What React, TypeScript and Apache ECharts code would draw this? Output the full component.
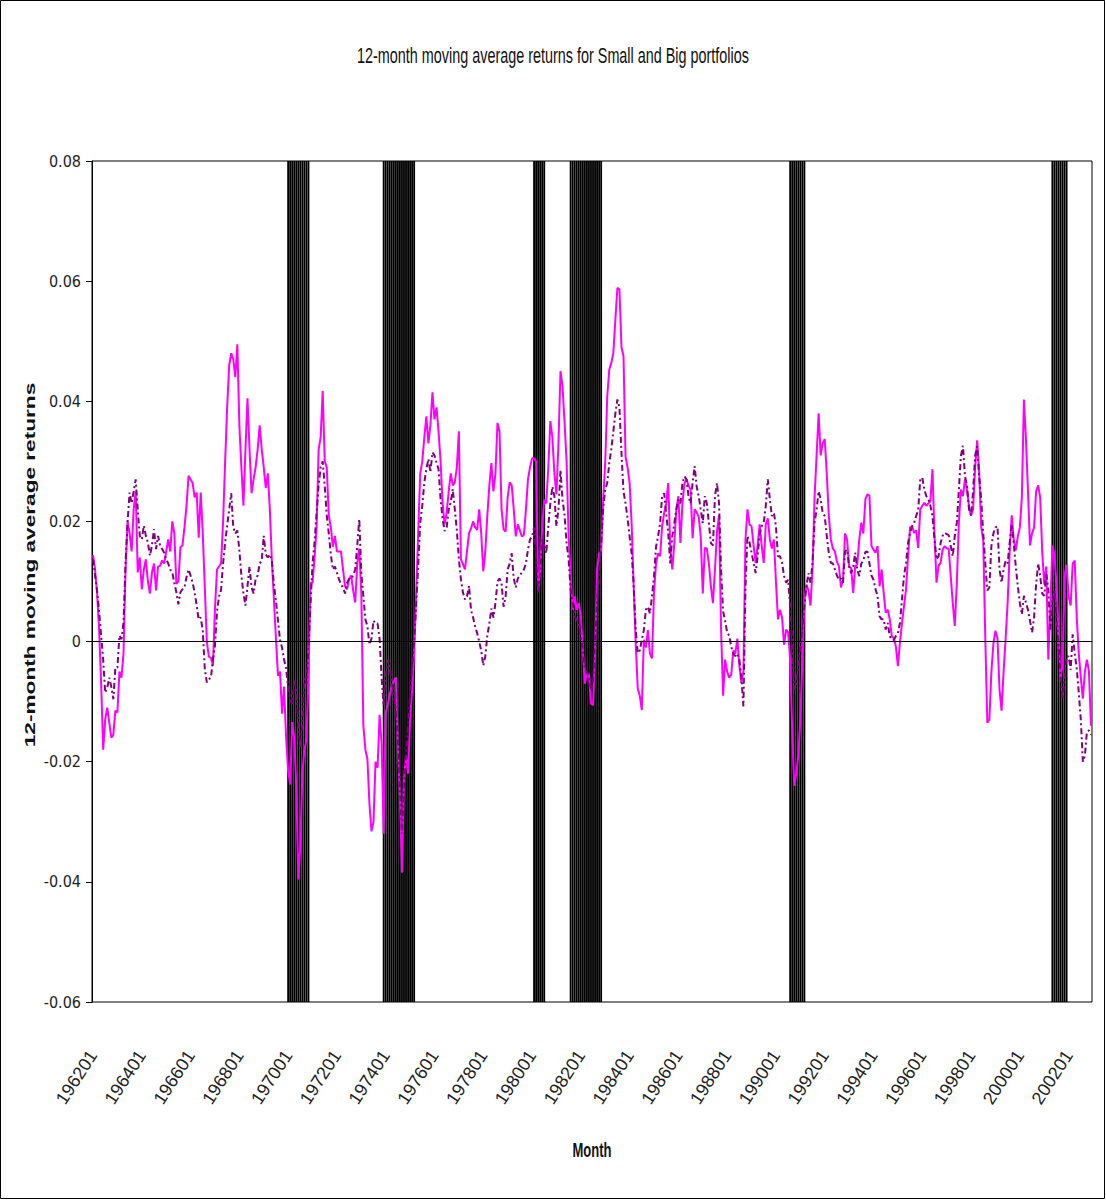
import React, { useEffect, useRef } from "react";
import * as echarts from "echarts";

// Monthly categories 196201 .. 200212
const FIRST_YEAR = 1962;
const LAST_YEAR = 2002;
const MONTHS: string[] = [];
for (let y = FIRST_YEAR; y <= LAST_YEAR; y++) {
  for (let m = 1; m <= 12; m++) MONTHS.push(`${y}${m < 10 ? "0" : ""}${m}`);
}

const TITLE = "12-month moving average returns for Small and Big portfolios";
const Y_NAME = "12-month moving average returns";
const X_NAME = "Month";

// Recession periods (first month, last month) shaded on the chart
const RECESSIONS: [string, string][] = [
  ["197001", "197011"],
  ["197312", "197503"],
  ["198002", "198007"],
  ["198108", "198211"],
  ["199008", "199103"],
  ["200105", "200112"],
];

// Small portfolio, 12-month moving average return (monthly from 196201)
const SMALL: number[] = [
  0.0144, 0.012, 0.008, 0.002, -0.007, -0.018, -0.013, -0.011, -0.0135, -0.016, -0.0155, -0.0115,
  -0.0118, -0.005, -0.006, -0.002, 0.012, 0.02, 0.018, 0.015, 0.022, 0.025, 0.0115,
  0.014, 0.0087, 0.012, 0.0137, 0.01, 0.008, 0.0115, 0.013, 0.0085, 0.0125, 0.0126, 0.0135,
  0.013, 0.015, 0.017, 0.015, 0.02, 0.018, 0.0096, 0.01, 0.0157, 0.016, 0.019, 0.0226,
  0.0276, 0.027, 0.0264, 0.024, 0.0248, 0.0173, 0.0248, 0.018, 0.009, 0.0, -0.0025, -0.0027,
  -0.004, 0.0055, 0.012, 0.0125, 0.013, 0.02, 0.03, 0.039, 0.046, 0.048, 0.047,
  0.044, 0.0495, 0.036, 0.029, 0.0226, 0.032, 0.0405, 0.032, 0.0247, 0.027, 0.029, 0.032,
  0.036, 0.032, 0.029, 0.0256, 0.028, 0.022, 0.0134, 0.007, 0.0005, -0.0057, -0.005, -0.012,
  -0.0075, -0.016, -0.0215, -0.0238, -0.0134, -0.016, -0.024, -0.0396, -0.034, -0.022, -0.018,
  -0.0164, -0.006, 0.0098, 0.0098, 0.014, 0.019, 0.032, 0.034, 0.0417, 0.03, 0.029, 0.021,
  0.019, 0.0158, 0.0176, 0.015, 0.015, 0.015, 0.012, 0.0092, 0.0087, 0.0104, 0.011, 0.0085,
  0.0065, 0.013, 0.0155, 0.008, -0.014, -0.018, -0.0195, -0.027, -0.0316, -0.03, -0.02, -0.021,
  -0.0122, -0.017, -0.032, -0.0118, -0.0105, -0.0088, -0.0074, -0.0066, -0.006, -0.018, -0.0257,
  -0.0385, -0.023, -0.019, -0.022, -0.013, -0.008, -0.002, 0.008, 0.0185, 0.028, 0.03, 0.034,
  0.0375, 0.033, 0.036, 0.0415, 0.037, 0.039, 0.035, 0.03, 0.023, 0.0195, 0.0215, 0.025,
  0.028, 0.026, 0.0265, 0.029, 0.035, 0.0137, 0.0129, 0.012, 0.015, 0.018, 0.0189,
  0.02, 0.019, 0.0186, 0.022, 0.018, 0.0117, 0.015, 0.021, 0.026, 0.0297, 0.025, 0.028,
  0.0364, 0.035, 0.022, 0.0187, 0.0183, 0.024, 0.0265, 0.026, 0.022, 0.0175, 0.0195, 0.0185,
  0.0175, 0.0178, 0.022, 0.027, 0.029, 0.0305, 0.0305, 0.03, 0.0086, 0.012, 0.0192,
  0.0236, 0.023, 0.029, 0.0367, 0.034, 0.028, 0.0245, 0.033, 0.045, 0.0425, 0.0365, 0.03,
  0.0175, 0.0108, 0.0053, 0.0075, 0.0053, 0.0064, 0.0042, -0.0014, -0.007, -0.0053, -0.0055, -0.0103,
  -0.0106, -0.002, 0.012, 0.0147, 0.015, 0.0236, 0.0297, 0.0408, 0.0453, 0.0464, 0.048, 0.0536,
  0.0589, 0.0586, 0.049, 0.0475, 0.0308, 0.029, 0.0264, 0.0197, 0.0092, -0.0003, -0.0078,
  -0.009, -0.0114, 0.0003, -0.001, 0.0019, -0.002, -0.0028, 0.008, 0.013, 0.0147, 0.0142, 0.0192,
  0.0214, 0.023, 0.0264, 0.0158, 0.012, 0.0164, 0.022, 0.0242, 0.0164, 0.023, 0.0264, 0.027,
  0.026, 0.0253, 0.0172, 0.022, 0.0215, 0.0208, 0.0175, 0.008, 0.0156, 0.0155, 0.013, 0.0092,
  0.0064, 0.012, 0.0183, 0.021, 0.002, -0.009, -0.003, -0.005, -0.006, -0.0055, -0.0015,
  -0.002, 0.0005, -0.004, -0.0069, -0.005, 0.017, 0.022, 0.0195, 0.0192, 0.016, 0.0131, 0.016,
  0.0195, 0.0159, 0.0131, 0.0195, 0.0205, 0.017, 0.0155, 0.017, 0.01, 0.0037, 0.0053, 0.004,
  -0.0005, 0.002, 0.0015, -0.003, -0.015, -0.024, -0.022, -0.019, -0.013, -0.003, 0.007, 0.0095,
  0.0085, 0.006, 0.012, 0.024, 0.031, 0.038, 0.031, 0.033, 0.0337, 0.028, 0.021,
  0.017, 0.0155, 0.015, 0.0133, 0.0125, 0.009, 0.0103, 0.018, 0.017, 0.0125, 0.0122, 0.0081,
  0.0126, 0.0128, 0.017, 0.0198, 0.018, 0.0237, 0.0245, 0.0243, 0.0159, 0.0153, 0.0148, 0.0159,
  0.0092, 0.012, 0.0081, 0.0048, 0.0053, 0.0037, 0.0009, 0.0006, -0.0008, -0.0041, -0.0002,
  0.003, 0.0059, 0.0087, 0.0142, 0.019, 0.0192, 0.0181, 0.0185, 0.0156, 0.022, 0.0226, 0.0231,
  0.0226, 0.023, 0.0234, 0.0287, 0.018, 0.0098, 0.0126, 0.0131, 0.0153, 0.0159, 0.0155, 0.0155,
  0.0109, 0.0064, 0.0026, 0.0098, 0.0198, 0.0253, 0.0242, 0.027, 0.0253, 0.0225, 0.021,
  0.022, 0.029, 0.0335, 0.028, 0.019, 0.0168, 0.0005, -0.0135, -0.013, -0.005, -0.0003, 0.0018,
  0.0005, -0.008, -0.0115, -0.005, 0.0005, 0.0065, 0.015, 0.021, 0.017, 0.0152, 0.0175, 0.019,
  0.024, 0.0403, 0.0337, 0.025, 0.016, 0.018, 0.019, 0.025, 0.026, 0.024, 0.015, 0.0095,
  0.0125, -0.003, 0.0055, 0.016, 0.0145, 0.0095, 0.002, -0.006, -0.004, 0.011, 0.0128,
  0.0075, 0.006, 0.013, 0.0135, 0.004, -0.002, -0.006, -0.0095, -0.005, -0.003, -0.005, -0.014,
];

// Big portfolio, 12-month moving average return (monthly from 196201)
const BIG: number[] = [
  0.0137, 0.011, 0.0085, 0.005, 0.001, -0.003, -0.0085, -0.0077, -0.006, -0.0075, -0.0096, -0.0043,
  -0.0043, 0.001, 0.0004, 0.0032, 0.013, 0.02, 0.0248, 0.023, 0.025, 0.027, 0.022,
  0.0176, 0.017, 0.0193, 0.0176, 0.0165, 0.0143, 0.016, 0.0187, 0.0154, 0.0176, 0.016, 0.0154,
  0.0148, 0.0137, 0.013, 0.012, 0.0115, 0.0098, 0.0082, 0.0062, 0.0082, 0.0087, 0.009, 0.0107,
  0.012, 0.011, 0.0098, 0.0082, 0.006, 0.0037, 0.004, 0.0018, -0.0046, -0.0068, -0.0063, -0.006,
  -0.003, -0.0007, 0.005, 0.0075, 0.0086, 0.013, 0.0164, 0.0193, 0.022, 0.0247, 0.019,
  0.018, 0.0185, 0.0152, 0.011, 0.008, 0.006, 0.0092, 0.0125, 0.009, 0.008, 0.0104, 0.011,
  0.013, 0.0135, 0.0176, 0.0145, 0.014, 0.0145, 0.0135, 0.0095, 0.0068, 0.0035, 0.0003, -0.001,
  -0.003, -0.0045, -0.0075, -0.0095, -0.0104, -0.0065, -0.008, -0.014, -0.0176, -0.0134, -0.006,
  -0.007, -0.001, 0.006, 0.013, 0.0165, 0.0215, 0.026, 0.029, 0.03, 0.026, 0.021, 0.018,
  0.0145, 0.012, 0.0125, 0.0115, 0.0104, 0.0095, 0.009, 0.008, 0.0098, 0.0104, 0.0104, 0.011,
  0.012, 0.016, 0.0204, 0.0115, 0.0076, 0.0037, 0.0026, -0.0005, 0.0005, 0.0035, 0.003, 0.003,
  0.0004, -0.006, -0.0107, -0.0055, -0.003, -0.0045, -0.0068, -0.009, -0.0113, -0.0165, -0.0246,
  -0.032, -0.025, -0.0185, -0.014, -0.009, -0.004, 0.0, 0.006, 0.0126, 0.0198, 0.0226, 0.0265,
  0.0287, 0.0304, 0.0282, 0.0315, 0.031, 0.0298, 0.0287, 0.0237, 0.0204, 0.0184, 0.019, 0.022,
  0.0232, 0.0254, 0.022, 0.0185, 0.0137, 0.0104, 0.0082, 0.007, 0.0075, 0.0093, 0.0052,
  0.004, 0.0025, 0.0014, 0.0, -0.0015, -0.004, -0.0025, 0.001, 0.003, 0.0055, 0.004, 0.0064,
  0.01, 0.0105, 0.0097, 0.0058, 0.0075, 0.012, 0.013, 0.0147, 0.0105, 0.009, 0.0105, 0.011,
  0.0115, 0.012, 0.013, 0.0153, 0.017, 0.0175, 0.019, 0.014, 0.008, 0.011, 0.017,
  0.016, 0.0147, 0.0192, 0.023, 0.0258, 0.0242, 0.0192, 0.022, 0.0286, 0.0236, 0.021, 0.0164,
  0.0136, 0.0086, 0.0064, 0.0042, 0.0036, 0.003, 0.0008, -0.0014, -0.0047, -0.0052, -0.0058, -0.008,
  -0.007, 0.0, 0.0064, 0.012, 0.0164, 0.022, 0.0253, 0.0264, 0.0297, 0.032, 0.035, 0.038,
  0.0403, 0.039, 0.0314, 0.025, 0.023, 0.0205, 0.0175, 0.0147, 0.0095, 0.0019, -0.0019,
  -0.0015, 0.0003, 0.0019, 0.0053, 0.0058, 0.0047, 0.0075, 0.0108, 0.0158, 0.0175, 0.0197, 0.0242,
  0.0247, 0.0214, 0.018, 0.013, 0.0175, 0.0197, 0.022, 0.0236, 0.023, 0.0264, 0.0275, 0.027,
  0.0242, 0.023, 0.0264, 0.0292, 0.0258, 0.0242, 0.022, 0.0197, 0.0242, 0.023, 0.0197, 0.0164,
  0.016, 0.0242, 0.0264, 0.023, 0.012, 0.005, 0.0035, 0.0015, 0.001, -0.0008, -0.002,
  -0.0024, -0.002, -0.003, -0.006, -0.0108, 0.009, 0.0176, 0.0165, 0.0148, 0.0131, 0.0114, 0.0142,
  0.018, 0.0192, 0.0198, 0.0226, 0.027, 0.0237, 0.0209, 0.0214, 0.0192, 0.0142, 0.0142, 0.0131,
  0.0109, 0.0098, 0.0103, 0.0059, 0.0, -0.008, -0.0069, -0.0041, -0.001, 0.002, 0.0059, 0.0092,
  0.0114, 0.0098, 0.0131, 0.0198, 0.022, 0.025, 0.0237, 0.0214, 0.0209, 0.0176, 0.0148,
  0.0131, 0.013, 0.012, 0.011, 0.0103, 0.0105, 0.0098, 0.015, 0.0153, 0.0125, 0.0114, 0.0125,
  0.0148, 0.012, 0.0109, 0.013, 0.0135, 0.0149, 0.015, 0.013, 0.011, 0.0103, 0.0087, 0.0076,
  0.0042, 0.0037, 0.0037, 0.002, 0.0031, 0.0009, 0.0003, 0.0003, 0.0009, 0.0014, 0.0031,
  0.007, 0.0109, 0.0131, 0.0164, 0.0181, 0.0192, 0.0198, 0.0209, 0.022, 0.027, 0.0273, 0.0253,
  0.0242, 0.0237, 0.0226, 0.0209, 0.017, 0.0137, 0.0142, 0.0164, 0.0176, 0.0181, 0.0179, 0.0177,
  0.0159, 0.0142, 0.0176, 0.0198, 0.0253, 0.0309, 0.0326, 0.0276, 0.0259, 0.022, 0.021,
  0.025, 0.031, 0.0325, 0.0275, 0.0237, 0.018, 0.013, 0.0085, 0.009, 0.0159, 0.018, 0.019,
  0.0192, 0.012, 0.0098, 0.012, 0.0134, 0.013, 0.0165, 0.0195, 0.0164, 0.0125, 0.0092, 0.0064,
  0.0045, 0.0076, 0.0065, 0.0053, 0.0035, 0.0015, 0.004, 0.0095, 0.013, 0.0109, 0.008, 0.0076,
  0.0114, 0.0087, 0.002, 0.0064, 0.0085, 0.004, -0.0005, -0.0055, -0.0095, -0.0058, -0.0024,
  -0.0025, -0.0047, 0.0012, -0.002, -0.0045, -0.0085, -0.013, -0.02, -0.019, -0.015, -0.0148, -0.0155,
];

const Y_MIN = -0.06;
const Y_MAX = 0.08;
const Y_STEP = 0.02;

const NARROW = "'Liberation Sans Narrow', 'Arial Narrow', 'DejaVu Sans Condensed', sans-serif";
const ARIAL = "'Liberation Sans', Arial, sans-serif";

export default function App() {
  const ref = useRef<HTMLDivElement>(null);

  useEffect(() => {
    if (!ref.current) return;
    const chart = echarts.init(ref.current, null, { renderer: "svg" });

    const recessionFlags = MONTHS.map((m) =>
      RECESSIONS.some(([a, b]) => m >= a && m <= b) ? 1 : null
    );

    const option: any = {
      animation: false,
      backgroundColor: "#ffffff",
      grid: {
        left: 92,
        top: 161,
        width: 1000,
        height: 841,
        show: true,
        borderColor: "#000",
        borderWidth: 1,
        backgroundColor: "transparent",
        containLabel: false,
      },
      xAxis: {
        type: "category",
        data: MONTHS,
        boundaryGap: true,
        axisLine: { show: true, lineStyle: { color: "#000", width: 1 } },
        axisTick: { show: false },
        splitLine: { show: false },
        axisLabel: {
          interval: 23,
          rotate: 57,
          margin: 50,
          fontSize: 18,
          fontFamily: ARIAL,
          color: "#222",
        },
      },
      yAxis: [
        {
          type: "value",
          min: Y_MIN,
          max: Y_MAX,
          interval: Y_STEP,
          axisLine: { show: true, lineStyle: { color: "#000", width: 1 } },
          axisTick: { show: true, inside: false, length: 6, lineStyle: { color: "#000" } },
          splitLine: { show: false },
          axisLabel: {
            margin: 11,
            fontSize: 16,
            fontFamily: NARROW,
            color: "#222",
            formatter: (v: number) => (Math.abs(v) < 1e-9 ? "0" : v.toFixed(2)),
          },
        },
        { type: "value", min: 0, max: 1, show: false },
      ],
      series: [
        {
          name: "Recession",
          type: "bar",
          xAxisIndex: 0,
          yAxisIndex: 1,
          data: recessionFlags,
          barCategoryGap: "8%",
          itemStyle: { color: "#000" },
          silent: true,
          z: 1,
        },
        {
          name: "Small",
          type: "line",
          data: SMALL,
          symbol: "none",
          showSymbol: false,
          lineStyle: { color: "#FF00FF", width: 2 },
          itemStyle: { color: "#FF00FF" },
          z: 3,
          markLine: {
            silent: true,
            symbol: ["none", "none"],
            label: { show: false },
            lineStyle: { color: "#000", width: 1, type: "solid" },
            data: [{ yAxis: 0 }],
          },
        },
        {
          name: "Big",
          type: "line",
          data: BIG,
          symbol: "none",
          showSymbol: false,
          lineStyle: { color: "#800080", width: 2, type: [6, 3, 2, 3] },
          itemStyle: { color: "#800080" },
          z: 4,
        },
      ],
      graphic: [
        {
          type: "rect",
          silent: true,
          z: -10,
          shape: { x: 0.5, y: 0.5, width: 1104, height: 1198 },
          style: { fill: "transparent", stroke: "#000", lineWidth: 1 },
        },
        {
          type: "text",
          x: 553,
          y: 55,
          scaleY: 1.55,
          silent: true,
          style: {
            text: TITLE,
            font: `14.4px ${ARIAL}`,
            fill: "#111",
            align: "center",
            verticalAlign: "middle",
            textAlign: "center",
            textVerticalAlign: "middle",
          },
        },
        {
          type: "text",
          x: 30,
          y: 565,
          rotation: Math.PI / 2,
          scaleX: 1.55,
          silent: true,
          style: {
            text: Y_NAME,
            font: `bold 14.6px ${ARIAL}`,
            fill: "#111",
            align: "center",
            verticalAlign: "middle",
            textAlign: "center",
            textVerticalAlign: "middle",
          },
        },
        {
          type: "text",
          x: 592,
          y: 1150,
          scaleY: 1.55,
          silent: true,
          style: {
            text: X_NAME,
            font: `bold 13px ${ARIAL}`,
            fill: "#111",
            align: "center",
            verticalAlign: "middle",
            textAlign: "center",
            textVerticalAlign: "middle",
          },
        },
      ],
    };

    chart.setOption(option);
    return () => {
      chart.dispose();
    };
  }, []);

  return (
    <div
      ref={ref}
      style={{ position: "absolute", left: 0, top: 0, width: 1106, height: 1200, background: "#fff" }}
    />
  );
}
